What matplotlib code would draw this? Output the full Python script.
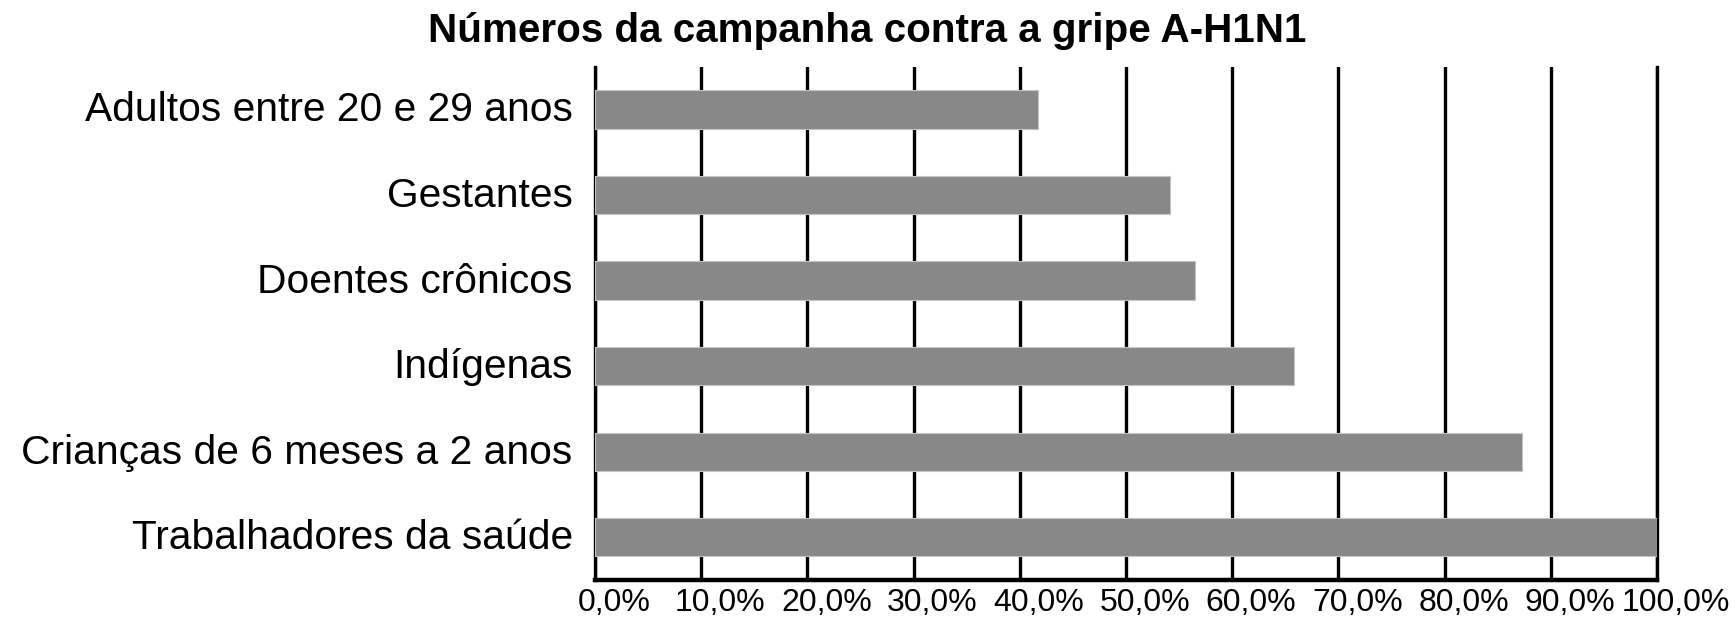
import matplotlib
matplotlib.use("Agg")
import matplotlib.pyplot as plt
from matplotlib.transforms import ScaledTranslation

# data, top to bottom as in the picture
categories = [
    "Adultos entre 20 e 29 anos",
    "Gestantes",
    "Doentes crônicos",
    "Indígenas",
    "Crianças de 6 meses a 2 anos",
    "Trabalhadores da saúde",
]
percent = [41.7, 54.1, 56.5, 65.8, 87.3, 100.0]
x_ticks = [0, 10, 20, 30, 40, 50, 60, 70, 80, 90, 100]
x_tick_labels = ["0,0%", "10,0%", "20,0%", "30,0%", "40,0%", "50,0%",
                 "60,0%", "70,0%", "80,0%", "90,0%", "100,0%"]
title = "Números da campanha contra a gripe A-H1N1"

plt.rcParams["font.family"] = ["Liberation Sans", "DejaVu Sans"]

fig = plt.figure(figsize=(17.36, 6.26), dpi=100)
ax = fig.add_axes([0.3427, 0.0735, 0.6118, 0.8200])

y = list(range(len(categories)))
ax.barh(y, percent, height=0.447, color="#888888",
        edgecolor="#c4c4c4", linewidth=0.8, zorder=3)

ax.set_xlim(0, 100)
ax.set_ylim(5.5, -0.5)
ax.set_xticks(x_ticks)
ax.set_xticklabels(x_tick_labels, fontsize=23)
ax.set_yticks(y)
ax.set_yticklabels(categories, fontsize=29.3)
ax.tick_params(axis="x", length=0, pad=6)
ax.tick_params(axis="y", length=0, pad=16)

# the original labels sit a little right of their grid lines
for lab in ax.get_xticklabels():
    lab.set_transform(lab.get_transform() + ScaledTranslation(0.19, 0, fig.dpi_scale_trans))
for lab in ax.get_yticklabels():
    lab.set_transform(lab.get_transform() + ScaledTranslation(0, 0.03, fig.dpi_scale_trans))

# vertical black grid lines behind the bars
ax.set_axisbelow(True)
ax.grid(axis="x", color="black", linewidth=2.4)
ax.grid(axis="y", visible=False)

ax.spines["top"].set_visible(False)
ax.spines["right"].set_linewidth(2.4)
ax.spines["left"].set_linewidth(2.4)
ax.spines["bottom"].set_linewidth(3.2)

fig.text(0.4995, 0.9334, title, ha="center", va="baseline",
         fontsize=29.1, fontweight="bold")

fig.savefig("out.png", dpi=100)
